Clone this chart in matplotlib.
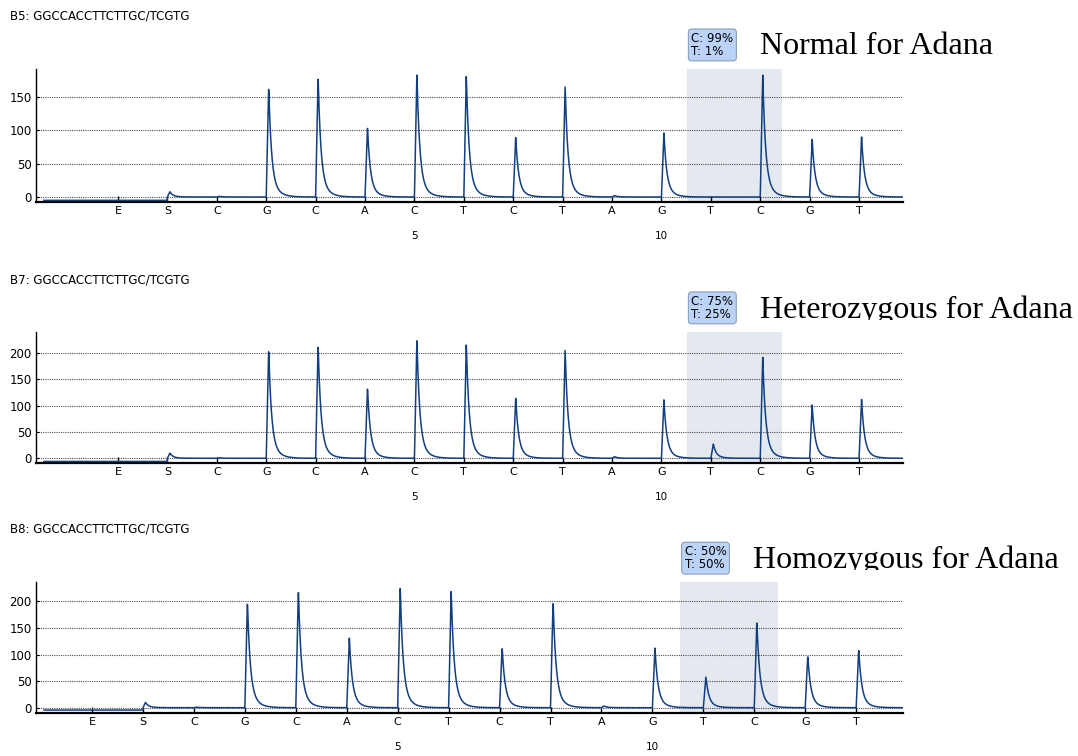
import numpy as np
import matplotlib
matplotlib.use('Agg')
import matplotlib.pyplot as plt
from matplotlib.transforms import Bbox, TransformedBbox

## Dispensation order and numbering (E = -1, S = 0, then 1..14)
dispensation = ['E', 'S', 'C', 'G', 'C', 'A', 'C', 'T', 'C', 'T', 'A', 'G', 'T', 'C', 'G', 'T']
positions = list(range(-1, 15))
number_labels = {5: '5', 10: '10'}

## Peak heights
heights_b5 = [0, 8, 1, 166, 181, 105, 186, 183, 90, 166, 2, 96, 0, 184, 87, 91]
heights_b7 = [0, 10, 1, 208, 216, 134, 227, 218, 115, 206, 3, 111, 27, 193, 102, 113]
heights_b8 = [0, 10, 1, 201, 223, 133, 225, 221, 114, 202, 3, 113, 58, 163, 99, 110]

titles = ['B5: GGCCACCTTCTTGC/TCGTG', 'B7: GGCCACCTTCTTGC/TCGTG', 'B8: GGCCACCTTCTTGC/TCGTG']
calls = ['C: 99%\nT: 1%', 'C: 75%\nT: 25%', 'C: 50%\nT: 50%']
genotypes = ['Normal for Adana', 'Heterozygous for Adana', 'Homozygous for Adana']
left_baseline = [-5, -6, -4.5]

## layout (figure fractions) and limits per panel
axes_rects = [[0.0334, 0.7328, 0.8043, 0.1759],
              [0.0334, 0.3872, 0.8043, 0.1737],
              [0.0334, 0.0573, 0.8043, 0.1725]]
xlims = [(-2.66, 14.89), (-2.66, 14.89), (-2.10, 14.92)]
ylims = [(-7.5, 192), (-9.5, 240), (-9.4, 236)]
yticks = [[0, 50, 100, 150], [0, 50, 100, 150, 200], [0, 50, 100, 150, 200]]
spans = [(10.52, 12.43), (10.52, 12.43), (10.55, 12.46)]
title_y = [1 - 16/756, 1 - 280/756, 1 - 529/756]
geno_xy = [(760/1078, 1 - 54/756), (760/1078, 1 - 318/756), (752.7/1078, 1 - 568/756)]

line_col = '#123f7f'


def pyrogram(xs, heights, base_left):
    y = np.where(xs < positions[1], base_left, 0.0)
    for p, h in zip(positions, heights):
        d = xs - p
        up = (d >= 0) & (d < 0.05)
        y[up] += h * d[up] / 0.05
        dn = d >= 0.05
        dd = d[dn] - 0.05
        y[dn] += h * (0.8 * np.exp(-dd / 0.055) + 0.2 * np.exp(-dd / 0.14))
    return y


fig = plt.figure(figsize=(10.78, 7.56), dpi=100)

all_heights = [heights_b5, heights_b7, heights_b8]
for i in range(3):
    ax = fig.add_axes(axes_rects[i])
    x0, x1 = xlims[i]
    xs = np.linspace(x0 + 0.16, x1, 4000)
    ys = pyrogram(xs, all_heights[i], left_baseline[i])
    ax.axvspan(spans[i][0], spans[i][1], color='#e4e9f0', zorder=0, lw=0)
    ax.plot(xs, ys, color=line_col, lw=1.1, zorder=3)
    ax.set_xlim(x0, x1)
    ax.set_ylim(*ylims[i])

    ## axes config
    ax.set_yticks(yticks[i])
    ax.set_xticks(positions, dispensation)
    ax.grid(True, axis='y', linestyle=(0, (1, 1)), color='0.3', lw=0.8)
    for s in ['top', 'right']:
        ax.spines[s].set_visible(False)
    ax.spines['bottom'].set_linewidth(1.6)
    ax.spines['left'].set_linewidth(1.0)
    ax.tick_params(axis='x', direction='in', length=4, width=1, pad=3, labelsize=8)
    ax.tick_params(axis='y', direction='in', length=2, pad=3, labelsize=8.5)
    for p, s in number_labels.items():
        ax.annotate(s, xy=(p, 0), xycoords=('data', 'axes fraction'), xytext=(0, -24.5),
                    textcoords='offset points', ha='center', va='center', fontsize=7.5)

    ## allele call box
    ax.annotate(calls[i], xy=(spans[i][0], 1), xycoords=('data', 'axes fraction'),
                xytext=(3, 8), textcoords='offset points', ha='left', va='bottom',
                fontsize=8.5, linespacing=1.0, annotation_clip=False,
                bbox=dict(boxstyle='round,pad=0.25,rounding_size=0.3', fc='#bcd3f8', ec='#8c9fbd', lw=0.8))

    fig.text(10/1078, title_y[i], titles[i], fontsize=8.5, va='center', ha='left')
    gx, gy = geno_xy[i]
    t = fig.text(gx, gy, genotypes[i], fontsize=23, family='Liberation Serif', va='baseline', ha='left')
    t.set_clip_on(True)
    t.set_clip_box(TransformedBbox(Bbox([[0, gy - 0.002], [1, 1]]), fig.transFigure))

fig.savefig('out.png', dpi=100)
